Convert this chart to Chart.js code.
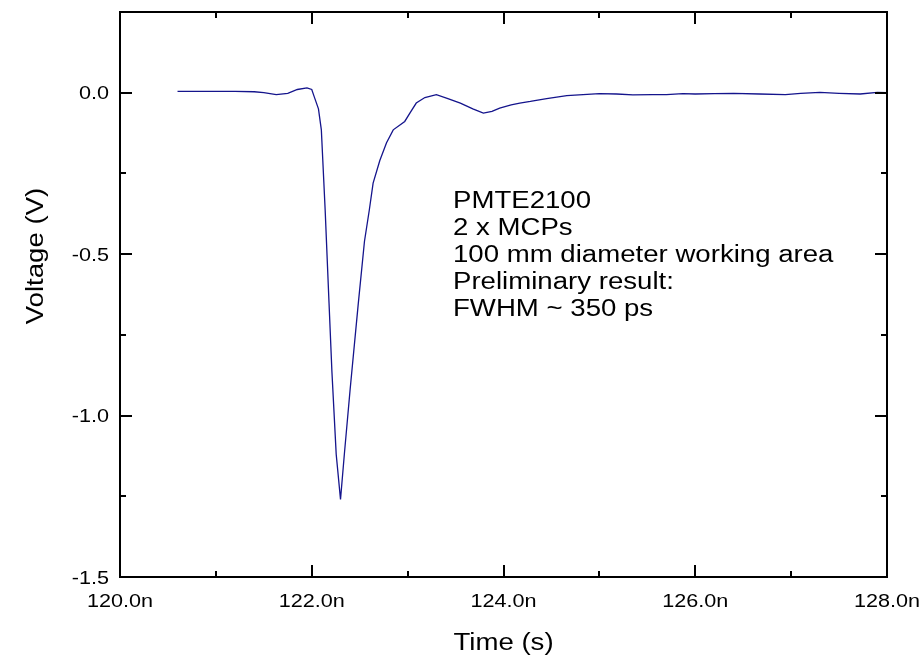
<!DOCTYPE html>
<html>
<head>
<meta charset="utf-8">
<script src="https://cdn.jsdelivr.net/npm/chart.js@4.4.0/dist/chart.umd.min.js"></script>
<style>
  body { margin: 0; background: #fff; }
  canvas { display: block; }
</style>
</head>
<body>
<canvas id="pulseChart" width="924" height="655"></canvas>
<script>
// time in ns, voltage in V
const timeNs = [120.60, 120.80, 121.00, 121.20, 121.40, 121.50, 121.63, 121.75, 121.85, 121.95,
  122.00, 122.03, 122.07, 122.10, 122.14, 122.18, 122.21, 122.255, 122.30, 122.34,
  122.40, 122.485, 122.55, 122.60, 122.64, 122.71, 122.78, 122.85, 122.97, 123.03,
  123.09, 123.18, 123.30, 123.42, 123.55, 123.68, 123.79, 123.88, 123.96, 124.08,
  124.17, 124.28, 124.45, 124.66, 125.00, 125.18, 125.35, 125.55, 125.70, 125.87,
  126.00, 126.20, 126.40, 126.67, 126.94, 127.10, 127.30, 127.50, 127.72, 127.90, 128.00];
const voltage = [0.004, 0.004, 0.004, 0.004, 0.003, 0.000, -0.006, -0.002, 0.010, 0.015,
  0.010, -0.016, -0.05, -0.115, -0.364, -0.65, -0.862, -1.12, -1.26, -1.12,
  -0.92, -0.654, -0.46, -0.364, -0.28, -0.21, -0.155, -0.115, -0.089, -0.06,
  -0.032, -0.015, -0.006, -0.018, -0.032, -0.05, -0.063, -0.058, -0.048, -0.038,
  -0.032, -0.027, -0.018, -0.009, -0.003, -0.004, -0.007, -0.006, -0.006, -0.003,
  -0.004, -0.003, -0.002, -0.004, -0.006, -0.002, 0.001, -0.002, -0.004, 0.001, 0.000];

const xTicks = [120, 122, 124, 126, 128];
const xMinorTicks = [121, 123, 125, 127];
const yTicks = [-1.5, -1.0, -0.5, 0.0];
const yMinorTicks = [-1.25, -0.75, -0.25];
const noteLines = ['PMTE2100', '2 x MCPs', '100 mm diameter working area', 'Preliminary result:', 'FWHM ~ 350 ps'];

const FONT = '"Liberation Sans", Arial, sans-serif';
const SX = 1.2; // text in the picture is wider than plain Arial

function drawText(ctx, text, x, y, size, align, rot) {
  ctx.save();
  ctx.translate(x, y);
  if (rot) ctx.rotate(rot);
  ctx.scale(SX, 1);
  ctx.font = size + 'px ' + FONT;
  ctx.fillStyle = '#000';
  ctx.textAlign = align;
  ctx.textBaseline = 'alphabetic';
  ctx.fillText(text, 0, 0);
  ctx.restore();
}

// frame with inward ticks on all four sides, plus labels
const framePlugin = {
  id: 'frame',
  afterDraw(chart) {
    const ctx = chart.ctx;
    const a = chart.chartArea;
    const xs = chart.scales.x, ys = chart.scales.y;
    ctx.save();
    ctx.strokeStyle = '#000';
    ctx.lineWidth = 2;
    ctx.strokeRect(a.left, a.top, a.right - a.left, a.bottom - a.top);

    ctx.beginPath();
    const xt = (list, len) => list.forEach(v => {
      const px = Math.round(xs.getPixelForValue(v));
      ctx.moveTo(px, a.bottom); ctx.lineTo(px, a.bottom - len);
      ctx.moveTo(px, a.top); ctx.lineTo(px, a.top + len);
    });
    const yt = (list, len) => list.forEach(v => {
      const py = Math.round(ys.getPixelForValue(v));
      ctx.moveTo(a.left, py); ctx.lineTo(a.left + len, py);
      ctx.moveTo(a.right, py); ctx.lineTo(a.right - len, py);
    });
    xt(xTicks, 12); xt(xMinorTicks, 6);
    yt(yTicks, 12); yt(yMinorTicks, 6);
    ctx.stroke();
    ctx.restore();

    xTicks.forEach(v => drawText(ctx, v.toFixed(1) + 'n', xs.getPixelForValue(v), a.bottom + 30, 18, 'center'));
    yTicks.forEach(v => drawText(ctx, v.toFixed(1), a.left - 11, ys.getPixelForValue(v) + 6.5, 18, 'right'));

    drawText(ctx, 'Time (s)', (a.left + a.right) / 2, 650, 23, 'center');
    drawText(ctx, 'Voltage (V)', 43, 256, 23, 'center', -Math.PI / 2);

    noteLines.forEach((t, i) => drawText(ctx, t, 453, 208 + i * 27, 23, 'left'));
  }
};

const ctx = document.getElementById('pulseChart').getContext('2d');
const pulseChart = new Chart(ctx, {
  type: 'line',
  data: {
    datasets: [{
      data: timeNs.map((t, i) => ({ x: t, y: voltage[i] })),
      borderColor: '#14148c',
      borderWidth: 1.3,
      pointRadius: 0,
      tension: 0,
      fill: false
    }]
  },
  options: {
    responsive: false,
    animation: false,
    layout: { padding: { left: 120, right: 37, top: 12, bottom: 78 } },
    plugins: { legend: { display: false }, tooltip: { enabled: false } },
    scales: {
      x: { type: 'linear', min: 120, max: 128, display: false },
      y: { type: 'linear', min: -1.5, max: 0.25, display: false }
    }
  },
  plugins: [framePlugin]
});
</script>
</body>
</html>
